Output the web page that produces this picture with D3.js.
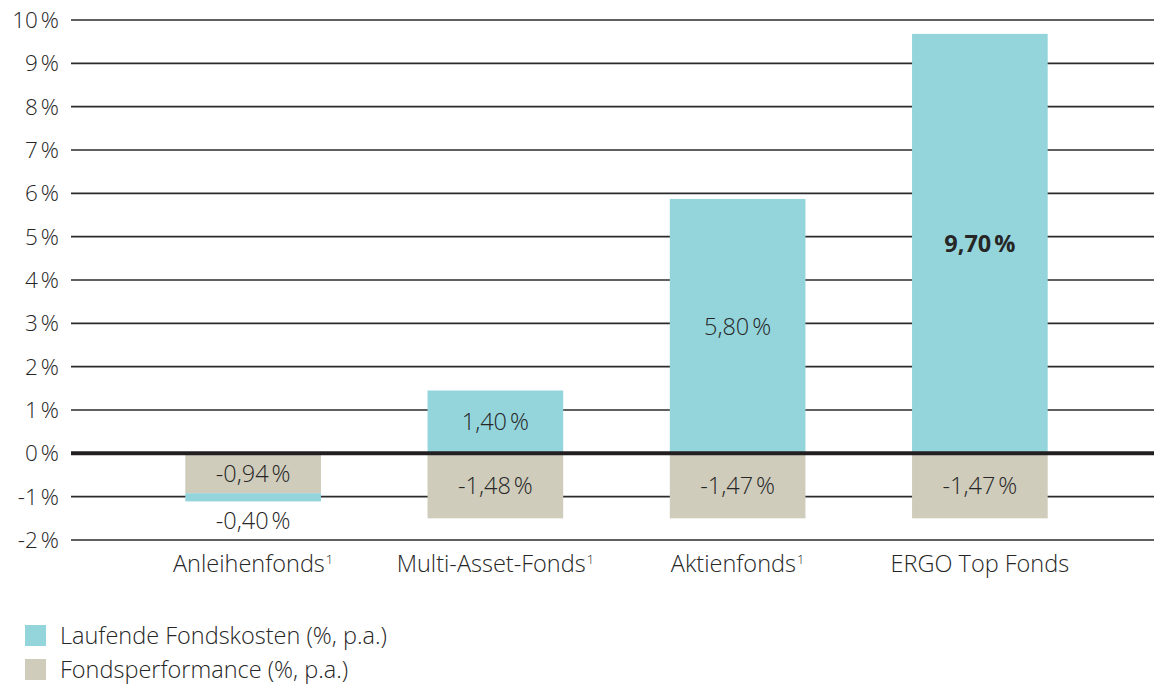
<!DOCTYPE html>
<html>
<head>
<meta charset="utf-8">
<script src="https://cdn.jsdelivr.net/npm/d3@7"></script>
<style>
  body { margin: 0; background: #fff; }
  svg { display: block; font-family: "Open Sans", "Noto Sans", sans-serif; font-weight: 300; }
</style>
</head>
<body>
<div id="chart"></div>
<script>
// categories and values
const categories = ['Anleihenfonds', 'Multi-Asset-Fonds', 'Aktienfonds', 'ERGO Top Fonds'];
const footnote = ['1', '1', '1', ''];
const costs = [-0.40, 1.40, 5.80, 9.70];          // Laufende Fondskosten
const costBarLength = [0.19, 1.45, 5.87, 9.68];   // drawn length of teal bars
const performance = [-0.94, -1.48, -1.47, -1.47]; // Fondsperformance
const perfBarLength = [-0.92, -1.50, -1.50, -1.50];
const yTicks = [-2, -1, 0, 1, 2, 3, 4, 5, 6, 7, 8, 9, 10];

const width = 1154, height = 684;
const TEAL = '#94d5dc', BEIGE = '#cfccbc', TEXT = '#262626';
const FS = '23.5px';

const fmt = v => (v < 0 ? '-' : '') + Math.abs(v).toFixed(2).replace('.', ',') + '\u202F%';

const svg = d3.select('#chart').append('svg')
    .attr('width', width)
    .attr('height', height);

const x = d3.scaleBand()
    .domain(categories)
    .range([132, 1101])
    .paddingInner(0.44)
    .paddingOuter(0.22);

const y = d3.scaleLinear()
    .domain([-2, 10])
    .range([540, 20]);

// gridlines
svg.append('g').selectAll('line')
    .data(yTicks.filter(d => d !== 0))
    .join('line')
    .attr('x1', 71).attr('x2', width)
    .attr('y1', d => y(d)).attr('y2', d => y(d))
    .attr('stroke', '#2b2b2b')
    .attr('stroke-width', 1.6);

// y labels
svg.append('g').selectAll('text')
    .data(yTicks)
    .join('text')
    .attr('x', 59)
    .attr('y', d => y(d))
    .attr('dy', '0.36em')
    .attr('text-anchor', 'end')
    .attr('fill', TEXT)
    .style('font-size', '22.5px')
    .text(d => d + '\u202F%');

const rows = categories.map((c, i) => ({
    c, cost: costs[i], costLen: costBarLength[i], perf: performance[i], perfLen: perfBarLength[i]
}));

// performance bars
svg.append('g').selectAll('rect')
    .data(rows)
    .join('rect')
    .attr('x', d => x(d.c))
    .attr('width', x.bandwidth())
    .attr('y', y(0))
    .attr('height', d => y(d.perfLen) - y(0))
    .attr('fill', BEIGE);

// cost bars: negative cost stacks below the performance bar
svg.append('g').selectAll('rect')
    .data(rows)
    .join('rect')
    .attr('x', d => x(d.c))
    .attr('width', x.bandwidth())
    .attr('y', d => d.cost < 0 ? y(d.perfLen) : y(d.costLen))
    .attr('height', d => d.cost < 0 ? y(d.perfLen - d.costLen) - y(d.perfLen) : y(0) - y(d.costLen))
    .attr('fill', TEAL);

// zero line
svg.append('line')
    .attr('x1', 71).attr('x2', width)
    .attr('y1', y(0)).attr('y2', y(0))
    .attr('stroke', '#231f20')
    .attr('stroke-width', 4);

// value labels
const labels = svg.append('g')
    .attr('fill', TEXT)
    .attr('text-anchor', 'middle')
    .style('font-size', FS);

labels.selectAll('.perf')
    .data(rows)
    .join('text')
    .attr('class', 'perf')
    .attr('x', d => x(d.c) + x.bandwidth() / 2)
    .attr('y', d => (y(0) + y(d.perfLen)) / 2)
    .attr('dy', '0.36em')
    .text(d => fmt(d.perf));

labels.selectAll('.cost')
    .data(rows)
    .join('text')
    .attr('class', 'cost')
    .attr('x', d => x(d.c) + x.bandwidth() / 2)
    .attr('y', d => d.cost < 0 ? y(d.perfLen - d.costLen) + 19 : (y(0) + y(d.costLen)) / 2)
    .attr('dy', '0.36em')
    .style('font-weight', (d, i) => i === categories.length - 1 ? 'bold' : null)
    .text(d => fmt(d.cost));

// category labels
const cat = svg.append('g').selectAll('text')
    .data(categories)
    .join('text')
    .attr('x', d => x(d) + x.bandwidth() / 2)
    .attr('y', 572)
    .attr('text-anchor', 'middle')
    .attr('fill', TEXT)
    .style('font-size', FS);
cat.append('tspan').text(d => d);
cat.append('tspan')
    .attr('dy', -8)
    .attr('dx', 1)
    .style('font-size', '13px')
    .text((d, i) => footnote[i]);

// legend
const legendItems = [
    { label: 'Laufende Fondskosten (%, p.a.)', color: TEAL },
    { label: 'Fondsperformance (%, p.a.)', color: BEIGE }
];
const legend = svg.append('g').selectAll('g')
    .data(legendItems)
    .join('g')
    .attr('transform', (d, i) => `translate(25,${625 + i * 34})`);
legend.append('rect')
    .attr('width', 21).attr('height', 21)
    .attr('fill', d => d.color);
legend.append('text')
    .attr('x', 35).attr('y', 11)
    .attr('dy', '0.36em')
    .attr('fill', TEXT)
    .style('font-size', FS)
    .text(d => d.label);
</script>
</body>
</html>
